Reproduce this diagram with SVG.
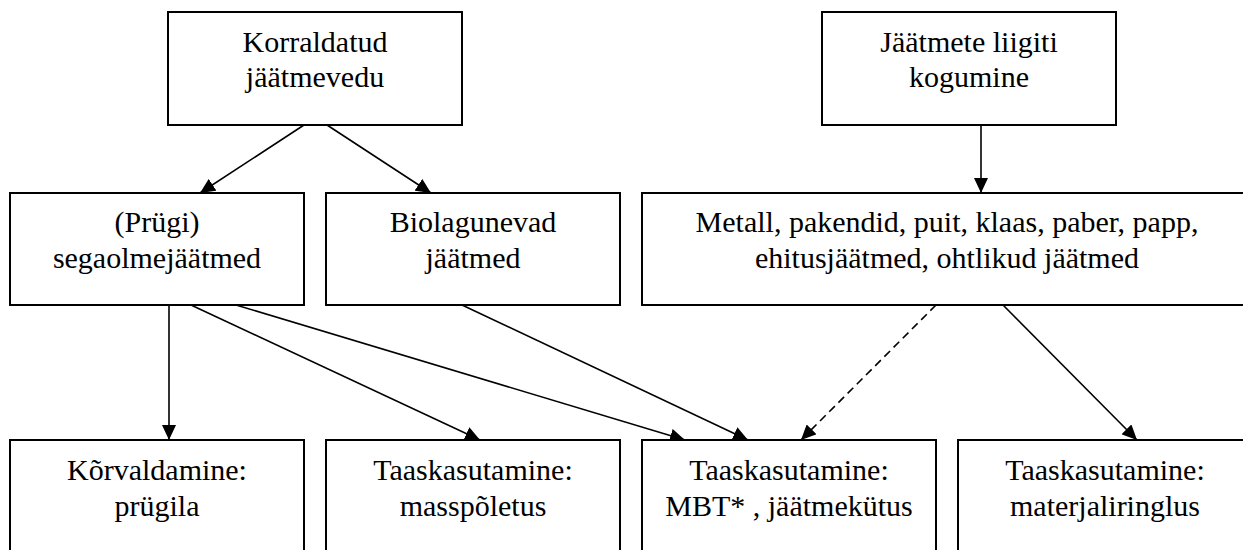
<svg xmlns="http://www.w3.org/2000/svg" width="1243" height="550" viewBox="0 0 1243 550">
<style>
.box{fill:#fff;stroke:#000;stroke-width:2}
.t{font-family:'Liberation Serif','Times New Roman',serif;font-size:30px;fill:#000;text-anchor:middle}
.c{stroke:#000;stroke-width:1.6;fill:none;marker-end:url(#ah)}
.d{stroke-dasharray:8 5}
</style>
<defs>
<marker id="ah" markerUnits="userSpaceOnUse" markerWidth="15" markerHeight="14" refX="15" refY="7" orient="auto">
<path d="M0,0 L15,7 L0,14 z" fill="#000"/>
</marker>
</defs>
<rect width="1243" height="550" fill="#fff"/>
<g id="connectors">
<line class="c" x1="304" y1="125" x2="200" y2="193"/>
<line class="c" x1="327" y1="125" x2="431" y2="193"/>
<line class="c" x1="981" y1="125" x2="981" y2="193"/>
<line class="c" x1="169" y1="305" x2="169" y2="440"/>
<line class="c" x1="191" y1="305" x2="480" y2="440"/>
<line class="c" x1="236" y1="305" x2="685" y2="440"/>
<line class="c" x1="462" y1="305" x2="748" y2="440"/>
<line class="c d" x1="936" y1="305" x2="801" y2="440"/>
<line class="c" x1="1003" y1="305" x2="1137" y2="440"/>
</g>
<g id="n1"><rect class="box" x="168" y="12" width="294" height="113"/><text class="t" x="315" y="52">Korraldatud</text><text class="t" x="315" y="87">jäätmevedu</text></g>
<g id="n2"><rect class="box" x="822" y="12" width="294" height="113"/><text class="t" x="969" y="52">Jäätmete liigiti</text><text class="t" x="969" y="87">kogumine</text></g>
<g id="n3"><rect class="box" x="10" y="193" width="294" height="112"/><text class="t" x="157" y="232">(Prügi)</text><text class="t" x="157" y="268">segaolmejäätmed</text></g>
<g id="n4"><rect class="box" x="326" y="193" width="294" height="112"/><text class="t" x="473" y="232">Biolagunevad</text><text class="t" x="473" y="268">jäätmed</text></g>
<g id="n5"><rect class="box" x="642" y="193" width="610" height="112"/><text class="t" x="947" y="232">Metall, pakendid, puit, klaas, paber, papp,</text><text class="t" x="947" y="268">ehitusjäätmed, ohtlikud jäätmed</text></g>
<g id="n6"><rect class="box" x="10" y="440" width="294" height="130"/><text class="t" x="157" y="480">Kõrvaldamine:</text><text class="t" x="157" y="516">prügila</text></g>
<g id="n7"><rect class="box" x="326" y="440" width="294" height="130"/><text class="t" x="473" y="480">Taaskasutamine:</text><text class="t" x="473" y="516">masspõletus</text></g>
<g id="n8"><rect class="box" x="642" y="440" width="294" height="130"/><text class="t" x="789" y="480">Taaskasutamine:</text><text class="t" x="789" y="516">MBT* , jäätmekütus</text></g>
<g id="n9"><rect class="box" x="958" y="440" width="294" height="130"/><text class="t" x="1105" y="480">Taaskasutamine:</text><text class="t" x="1105" y="516">materjaliringlus</text></g>
</svg>
